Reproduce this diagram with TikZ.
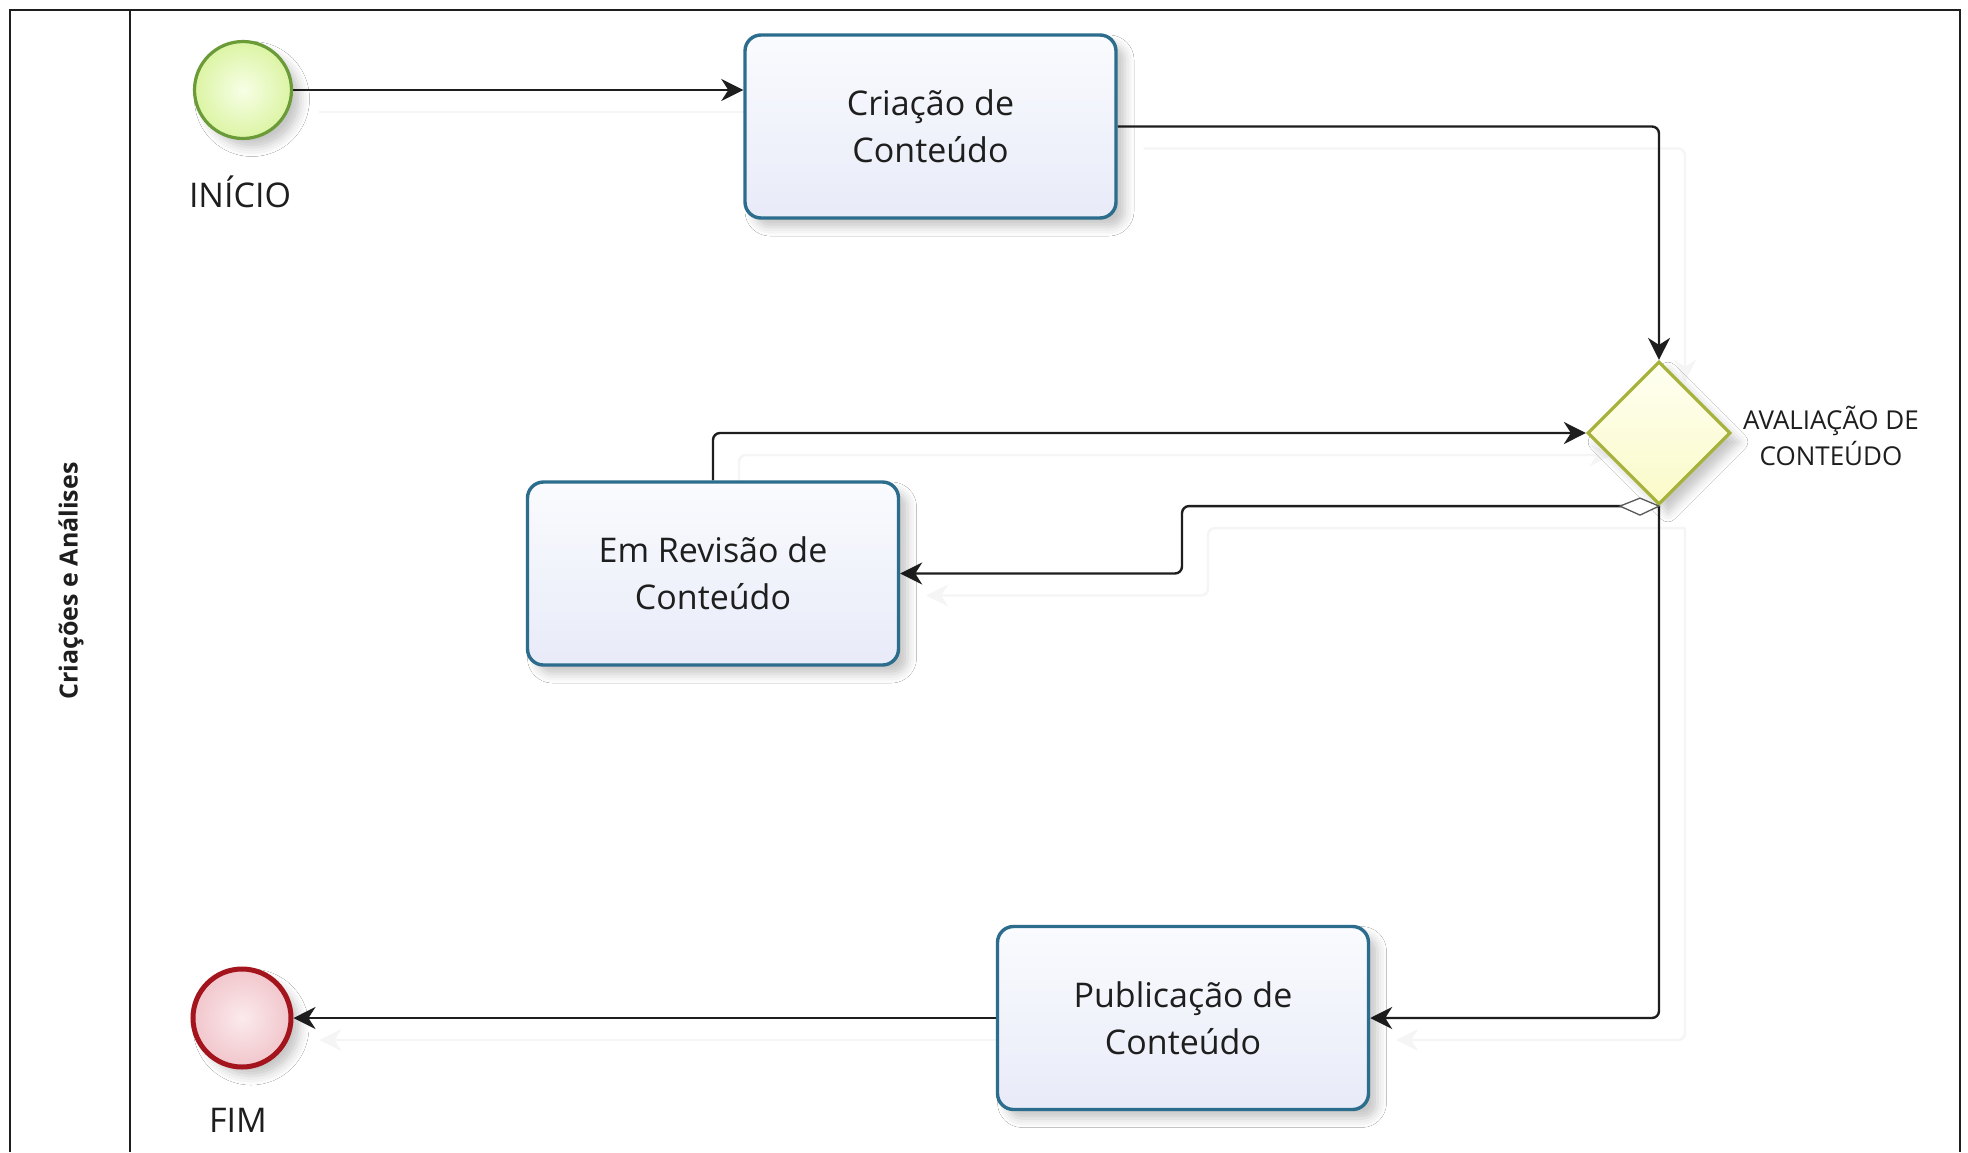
\documentclass[tikz,border=0pt]{standalone}
\usepackage{fontspec}
\setmainfont{Open Sans}
\usetikzlibrary{arrows.meta,shapes.geometric,shadows.blur}

\definecolor{taskline}{HTML}{2C6C8C}
\definecolor{tasktop}{HTML}{FAFBFE}
\definecolor{taskbot}{HTML}{E8EBF8}
\definecolor{startline}{HTML}{6A9B38}
\definecolor{startin}{HTML}{F7FFE6}
\definecolor{startout}{HTML}{DCF4A4}
\definecolor{endline}{HTML}{A3141C}
\definecolor{endin}{HTML}{FBEAEC}
\definecolor{endout}{HTML}{F1C6CC}
\definecolor{gwline}{HTML}{A6B23A}
\definecolor{gwtop}{HTML}{FFFFF2}
\definecolor{gwbot}{HTML}{FAFAC8}
\definecolor{inkc}{HTML}{1E1E1E}

\pgfdeclarelayer{background}
\pgfsetlayers{background,main}

\tikzset{
  x=1pt, y=-1pt,
  >={Stealth[length=22pt,width=22pt,inset=7pt]},
  softshadow/.style={blur shadow={shadow xshift=9pt, shadow yshift=-9pt,
      shadow blur radius=9pt, shadow opacity=22}},
  task/.style={draw=taskline, line width=3.4pt, rounded corners=16pt,
      top color=tasktop, bottom color=taskbot, softshadow,
      minimum width=371pt, minimum height=183pt, inner sep=0pt,
      align=center, text=inkc, font=\fontsize{34}{47}\selectfont},
  startev/.style={circle, draw=startline, line width=3.2pt,
      inner color=startin, outer color=startout, softshadow,
      minimum size=97pt, inner sep=0pt},
  endev/.style={circle, draw=endline, line width=5pt,
      inner color=endin, outer color=endout, softshadow,
      minimum size=98pt, inner sep=0pt},
  gateway/.style={diamond, aspect=1, draw=gwline, line width=3.2pt,
      top color=gwtop, bottom color=gwbot, softshadow,
      minimum width=143pt, minimum height=143pt, inner sep=0pt},
  evlabel/.style={text=inkc, font=\fontsize{34}{47}\selectfont, inner sep=0pt},
  gwlabel/.style={text=inkc, align=center, font=\fontsize{26}{36}\selectfont, inner sep=0pt},
  flow/.style={->, draw=inkc, line width=2.4pt, rounded corners=7pt,
      preaction={draw=black!4, line width=2.4pt,
        transform canvas={xshift=26pt, yshift=-22pt}}},
  laneline/.style={draw=inkc, line width=2.6pt},
}

\begin{document}
\begin{tikzpicture}
  \useasboundingbox (0,0) rectangle (1968,1152);

  % pool and lane
  \draw[laneline] (10,1152) -- (10,10) -- (1960,10) -- (1960,1152);
  \draw[laneline] (130,10) -- (130,1152);
  \node[rotate=90, text=inkc, font=\bfseries\fontsize{25}{30}\selectfont, inner sep=0pt]
    (lane) at (71,581) {Criações e Análises};

  % events, tasks and gateway
  \node[startev] (start) at (243,90) {};
  \node[evlabel] (startlbl) at (240,192) {INÍCIO};

  \node[task] (crea) at (930.5,126.5) {Criação de\\Conteúdo};
  \node[gateway] (gw) at (1659,433) {};
  \node[gwlabel] (gwlbl) at (1831,436) {AVALIAÇÃO DE\\CONTEÚDO};

  \node[task] (rev) at (713,573.5) {Em Revisão de\\Conteúdo};
  \node[task] (pub) at (1183,1018) {Publicação de\\Conteúdo};

  \node[endev] (end) at (242,1018) {};
  \node[evlabel] (endlbl) at (238,1120) {FIM};

  \coordinate (jog) at (1182,540);

  % sequence flows, kept beneath the shapes
  \begin{pgfonlayer}{background}
    \fill[white] (0,0) rectangle (1968,1152);
    \draw[flow] (start.east) -- (start.east -| crea.west);
    \draw[flow] (crea.east) -| (gw.north);
    \draw[flow] (rev.north) |- (gw.west);
    \draw[flow] (gw.south) -- (gw.south -| jog) -- (jog |- rev.east) -- (rev.east);
    \draw[flow] (gw.south) |- (pub.east);
    \draw[flow] (pub.west) -- (end.east);
  \end{pgfonlayer}

  % conditional marker at the start of the flow back to revision
  \draw[draw=black!65, fill=white, line width=1.3pt]
    (gw.south) -- ++(-19,-8) -- ++(-20,8) -- ++(20,9) -- cycle;
\end{tikzpicture}
\end{document}
